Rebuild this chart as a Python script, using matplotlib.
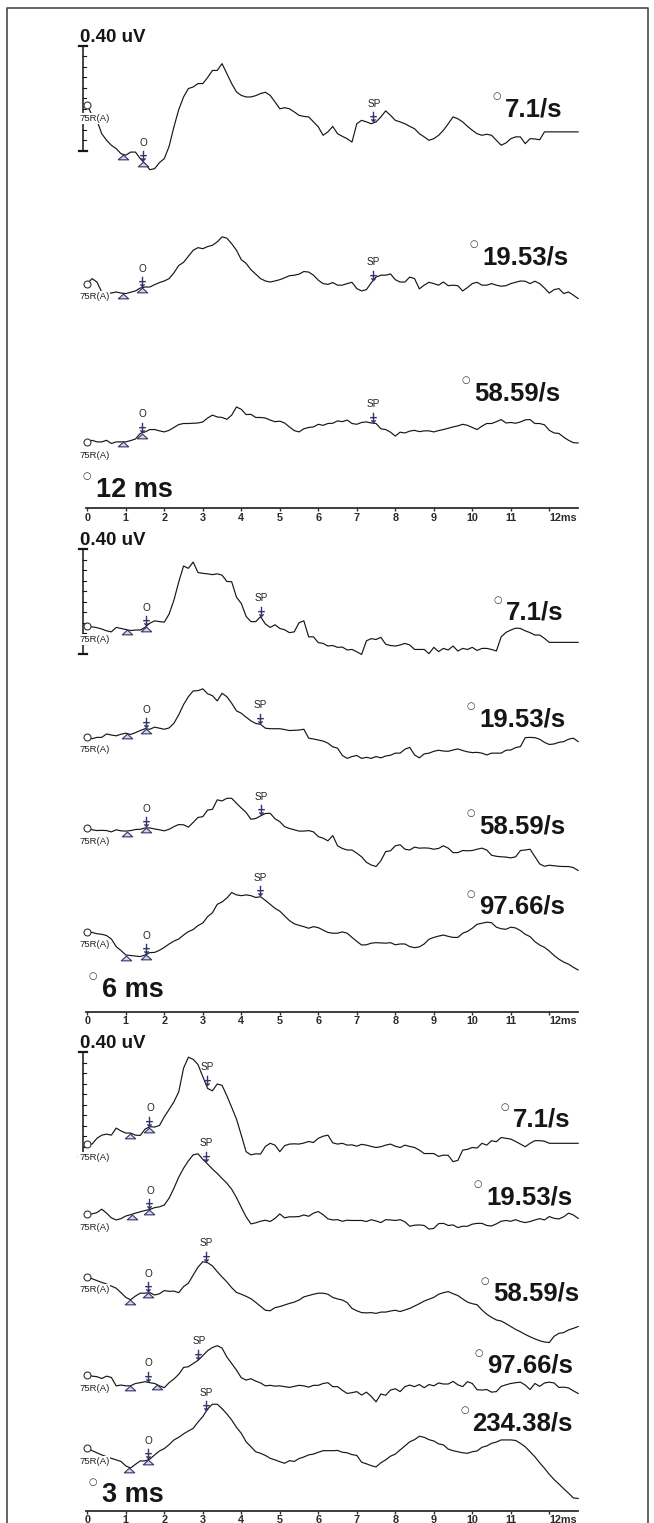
import numpy as np
import matplotlib
matplotlib.use("Agg")
import matplotlib.pyplot as plt
from matplotlib.path import Path
from matplotlib.lines import Line2D

plt.rcParams['font.family'] = ['Liberation Sans', 'DejaVu Sans']

# sample times of the averaged sweeps (ms)
time_ms = np.arange(103) * 0.125

# averaged responses in uV, relative to the first sample of each sweep
# 12 ms window
w12_71 = [0.057, 0.019, 0.000, -0.051, -0.076, -0.095, -0.108, -0.127,
          -0.133, -0.121, -0.121, -0.146, -0.165, -0.188, -0.184, -0.161,
          -0.146, -0.099, -0.025, 0.041, 0.089, 0.121, 0.127, 0.140,
          0.140, 0.163, 0.190, 0.190, 0.216, 0.178, 0.140, 0.108,
          0.095, 0.089, 0.089, 0.094, 0.102, 0.107, 0.095, 0.070,
          0.044, 0.048, 0.044, 0.032, 0.019, 0.015, 0.013, -0.006,
          -0.025, -0.057, -0.044, -0.023, -0.051, -0.061, -0.070, -0.083,
          -0.013, 0.000, -0.006, -0.013, -0.006, 0.013, 0.036, 0.019,
          0.000, -0.006, -0.013, -0.023, -0.032, -0.051, -0.063, -0.076,
          -0.070, -0.057, -0.038, -0.013, 0.013, 0.006, -0.006, -0.023,
          -0.038, -0.051, -0.057, -0.053, -0.057, -0.076, -0.095, -0.086,
          -0.070, -0.063, -0.063, -0.089, -0.070, -0.071, -0.074, -0.044,
          -0.044, -0.044, -0.044, -0.044, -0.044, -0.044, -0.044]
w12_19 = [0.000, 0.019, 0.006, -0.032, -0.036, -0.036, -0.032, -0.036,
          -0.038, -0.033, -0.028, -0.017, -0.013, -0.013, -0.004, 0.004,
          0.010, 0.019, 0.041, 0.069, 0.081, 0.104, 0.127, 0.137,
          0.133, 0.141, 0.146, 0.159, 0.178, 0.173, 0.152, 0.127,
          0.091, 0.077, 0.053, 0.036, 0.019, 0.010, 0.006, 0.010,
          0.015, 0.022, 0.030, 0.032, 0.036, 0.046, 0.044, 0.032,
          0.013, 0.000, -0.003, 0.004, -0.006, -0.006, 0.000, 0.005,
          -0.019, -0.028, -0.023, 0.003, 0.025, 0.032, 0.032, 0.037,
          0.015, 0.006, 0.006, 0.025, 0.019, -0.020, -0.006, 0.005,
          0.000, -0.006, 0.006, -0.008, -0.006, -0.008, -0.028, -0.015,
          0.000, 0.005, -0.006, -0.006, 0.000, -0.006, -0.010, -0.008,
          0.000, 0.005, 0.010, 0.009, 0.000, 0.009, 0.000, -0.017,
          -0.036, -0.023, -0.019, -0.038, -0.032, -0.044, -0.057]
w12_58 = [0.000, 0.006, 0.000, 0.000, 0.006, -0.006, 0.000, 0.000,
          0.000, 0.005, 0.011, 0.032, 0.038, 0.047, 0.047, 0.042,
          0.038, 0.044, 0.055, 0.066, 0.070, 0.070, 0.071, 0.072,
          0.076, 0.091, 0.102, 0.095, 0.093, 0.086, 0.102, 0.133,
          0.124, 0.104, 0.105, 0.093, 0.093, 0.091, 0.083, 0.077,
          0.079, 0.072, 0.057, 0.043, 0.038, 0.050, 0.055, 0.057,
          0.067, 0.063, 0.070, 0.071, 0.080, 0.077, 0.083, 0.070,
          0.067, 0.074, 0.076, 0.072, 0.070, 0.050, 0.047, 0.037,
          0.022, 0.037, 0.034, 0.041, 0.044, 0.039, 0.042, 0.042,
          0.038, 0.043, 0.047, 0.052, 0.057, 0.061, 0.067, 0.063,
          0.055, 0.047, 0.060, 0.070, 0.070, 0.077, 0.085, 0.072,
          0.074, 0.071, 0.076, 0.084, 0.085, 0.070, 0.070, 0.065,
          0.044, 0.034, 0.032, 0.018, 0.006, -0.003, -0.004]
# 6 ms window
w6_71 = [0.000, -0.003, -0.006, -0.011, -0.018, -0.022, -0.005, -0.009,
         -0.013, -0.017, -0.015, -0.015, -0.005, 0.011, 0.020, 0.017,
         0.015, 0.046, 0.099, 0.168, 0.229, 0.220, 0.244, 0.204,
         0.201, 0.199, 0.196, 0.199, 0.194, 0.170, 0.169, 0.110,
         0.086, 0.037, 0.017, 0.017, 0.036, 0.008, -0.005, 0.005,
         -0.009, -0.014, -0.025, -0.022, 0.013, 0.020, -0.041, -0.041,
         -0.063, -0.066, -0.076, -0.074, -0.081, -0.080, -0.091, -0.089,
         -0.098, -0.108, -0.056, -0.048, -0.051, -0.043, -0.069, -0.074,
         -0.076, -0.072, -0.066, -0.072, -0.089, -0.089, -0.089, -0.105,
         -0.081, -0.097, -0.085, -0.091, -0.076, -0.095, -0.085, -0.089,
         -0.081, -0.093, -0.085, -0.085, -0.089, -0.095, -0.041, -0.024,
         -0.015, -0.008, -0.009, -0.018, -0.025, -0.034, -0.034, -0.047,
         -0.062, -0.062, -0.062, -0.062, -0.062, -0.062, -0.062]
w6_19 = [0.000, -0.008, -0.003, -0.003, 0.010, 0.006, 0.003, 0.009,
         0.013, 0.008, 0.015, 0.023, 0.030, 0.028, 0.036, 0.032,
         0.028, 0.033, 0.051, 0.083, 0.122, 0.152, 0.174, 0.175,
         0.182, 0.163, 0.156, 0.136, 0.165, 0.152, 0.127, 0.098,
         0.089, 0.074, 0.060, 0.050, 0.047, 0.032, 0.030, 0.030,
         0.030, 0.027, 0.023, 0.024, 0.025, 0.028, -0.006, -0.009,
         -0.013, -0.017, -0.025, -0.039, -0.044, -0.072, -0.083, -0.076,
         -0.072, -0.083, -0.079, -0.083, -0.076, -0.081, -0.074, -0.071,
         -0.063, -0.063, -0.048, -0.041, -0.070, -0.081, -0.066, -0.063,
         -0.056, -0.052, -0.055, -0.056, -0.051, -0.047, -0.053, -0.058,
         -0.061, -0.060, -0.063, -0.070, -0.063, -0.063, -0.063, -0.052,
         -0.051, -0.042, -0.038, -0.004, -0.003, -0.004, -0.010, -0.022,
         -0.030, -0.028, -0.022, -0.019, -0.010, -0.006, -0.019]
w6_58 = [0.000, -0.006, -0.009, -0.008, -0.009, -0.014, -0.006, -0.010,
         -0.011, -0.009, -0.005, -0.004, 0.001, 0.001, -0.003, -0.006,
         -0.010, -0.004, 0.006, 0.014, 0.013, 0.004, 0.022, 0.041,
         0.044, 0.069, 0.072, 0.108, 0.104, 0.114, 0.114, 0.095,
         0.077, 0.060, 0.034, 0.037, 0.047, 0.056, 0.057, 0.036,
         0.025, 0.006, -0.001, -0.006, -0.011, -0.011, -0.009, -0.014,
         -0.032, -0.038, -0.048, -0.028, -0.067, -0.077, -0.083, -0.083,
         -0.095, -0.109, -0.130, -0.140, -0.146, -0.124, -0.089, -0.086,
         -0.067, -0.063, -0.080, -0.083, -0.072, -0.076, -0.075, -0.076,
         -0.080, -0.077, -0.067, -0.076, -0.093, -0.093, -0.085, -0.086,
         -0.085, -0.080, -0.076, -0.083, -0.103, -0.107, -0.109, -0.110,
         -0.113, -0.109, -0.085, -0.083, -0.080, -0.108, -0.136, -0.145,
         -0.141, -0.143, -0.145, -0.146, -0.146, -0.150, -0.161]
w6_97 = [0.000, -0.003, -0.008, -0.010, -0.015, -0.028, -0.057, -0.072,
         -0.089, -0.091, -0.093, -0.095, -0.089, -0.080, -0.079, -0.071,
         -0.060, -0.047, -0.036, -0.028, -0.013, 0.000, 0.008, 0.023,
         0.033, 0.057, 0.072, 0.104, 0.113, 0.128, 0.149, 0.140,
         0.137, 0.140, 0.137, 0.130, 0.133, 0.119, 0.104, 0.089,
         0.078, 0.060, 0.042, 0.030, 0.024, 0.019, 0.013, 0.019,
         0.015, 0.006, -0.003, -0.006, -0.006, -0.001, -0.006, -0.022,
         -0.037, -0.051, -0.050, -0.044, -0.042, -0.043, -0.044, -0.042,
         -0.050, -0.047, -0.047, -0.057, -0.061, -0.058, -0.047, -0.029,
         -0.022, -0.017, -0.013, -0.018, -0.022, -0.022, -0.006, 0.001,
         0.013, 0.028, 0.032, 0.036, 0.034, 0.017, 0.011, 0.009,
         0.017, 0.014, 0.004, -0.010, -0.019, -0.038, -0.051, -0.060,
         -0.074, -0.091, -0.105, -0.116, -0.124, -0.136, -0.146]
# 3 ms window
w3_71 = [0.000, 0.000, 0.022, 0.034, 0.038, 0.034, 0.061, 0.050,
         0.042, 0.042, 0.034, 0.033, 0.057, 0.066, 0.065, 0.071,
         0.104, 0.132, 0.161, 0.199, 0.289, 0.331, 0.323, 0.303,
         0.257, 0.212, 0.203, 0.229, 0.224, 0.184, 0.140, 0.095,
         0.034, -0.029, -0.041, -0.037, -0.038, -0.009, 0.003, -0.004,
         -0.029, -0.006, 0.000, 0.001, 0.000, 0.004, 0.010, 0.006,
         0.022, 0.030, 0.034, 0.005, 0.000, 0.003, -0.004, -0.003,
         -0.008, -0.001, -0.004, -0.009, -0.013, -0.010, -0.004, 0.000,
         -0.008, -0.013, -0.004, -0.009, -0.013, -0.023, -0.036, -0.036,
         -0.036, -0.047, -0.042, -0.043, -0.067, -0.062, -0.023, -0.020,
         -0.013, -0.015, 0.003, -0.004, 0.013, 0.009, 0.025, 0.022,
         0.019, 0.010, 0.000, -0.010, 0.003, 0.013, 0.013, 0.011,
         0.003, 0.003, 0.003, 0.003, 0.003, 0.003, 0.003]
w3_19 = [0.000, 0.000, 0.005, 0.018, 0.003, -0.015, -0.023, -0.018,
         -0.008, -0.003, 0.003, 0.008, 0.013, 0.017, 0.024, 0.027,
         0.034, 0.060, 0.098, 0.140, 0.174, 0.202, 0.225, 0.229,
         0.208, 0.190, 0.171, 0.154, 0.135, 0.117, 0.094, 0.062,
         0.025, -0.011, -0.038, -0.034, -0.028, -0.024, -0.029, -0.017,
         0.000, -0.015, -0.011, -0.011, -0.010, -0.004, -0.009, 0.003,
         0.009, -0.003, -0.019, -0.023, -0.022, -0.028, -0.024, -0.025,
         -0.025, -0.025, -0.029, -0.022, -0.027, -0.033, -0.022, -0.023,
         -0.025, -0.022, -0.030, -0.047, -0.043, -0.042, -0.044, -0.058,
         -0.055, -0.037, -0.036, -0.044, -0.042, -0.052, -0.047, -0.047,
         -0.039, -0.036, -0.036, -0.044, -0.046, -0.038, -0.028, -0.025,
         -0.028, -0.022, -0.029, -0.033, -0.029, -0.023, -0.018, -0.023,
         -0.010, -0.017, -0.019, -0.011, 0.003, -0.004, -0.017]
w3_58 = [0.000, -0.008, -0.015, -0.022, -0.028, -0.036, -0.044, -0.061,
         -0.079, -0.088, -0.074, -0.063, -0.063, -0.061, -0.070, -0.065,
         -0.053, -0.056, -0.055, -0.061, -0.038, -0.025, 0.006, 0.036,
         0.057, 0.053, 0.041, 0.019, -0.001, -0.020, -0.042, -0.060,
         -0.067, -0.075, -0.084, -0.098, -0.113, -0.128, -0.130, -0.118,
         -0.114, -0.108, -0.102, -0.097, -0.089, -0.077, -0.072, -0.067,
         -0.063, -0.063, -0.067, -0.079, -0.085, -0.089, -0.099, -0.121,
         -0.130, -0.137, -0.138, -0.137, -0.140, -0.135, -0.135, -0.131,
         -0.128, -0.133, -0.127, -0.121, -0.112, -0.103, -0.093, -0.086,
         -0.079, -0.067, -0.061, -0.057, -0.065, -0.072, -0.085, -0.097,
         -0.103, -0.107, -0.127, -0.143, -0.155, -0.165, -0.169, -0.179,
         -0.190, -0.201, -0.210, -0.220, -0.229, -0.237, -0.244, -0.249,
         -0.251, -0.227, -0.216, -0.213, -0.203, -0.197, -0.190]
w3_97 = [0.000, -0.004, -0.006, -0.013, -0.004, -0.009, -0.041, -0.038,
         -0.041, -0.041, -0.032, -0.029, -0.025, -0.029, -0.032, -0.041,
         -0.048, -0.029, -0.015, 0.003, 0.029, 0.032, 0.044, 0.056,
         0.074, 0.093, 0.105, 0.112, 0.103, 0.069, 0.044, 0.019,
         -0.010, -0.019, -0.014, -0.023, -0.030, -0.041, -0.039, -0.042,
         -0.041, -0.044, -0.047, -0.043, -0.039, -0.041, -0.046, -0.039,
         -0.039, -0.032, -0.029, -0.044, -0.044, -0.058, -0.070, -0.067,
         -0.063, -0.076, -0.065, -0.081, -0.102, -0.072, -0.077, -0.057,
         -0.052, -0.063, -0.044, -0.038, -0.044, -0.036, -0.048, -0.036,
         -0.041, -0.030, -0.034, -0.034, -0.024, -0.037, -0.044, -0.025,
         -0.032, -0.056, -0.057, -0.055, -0.065, -0.063, -0.043, -0.037,
         -0.032, -0.029, -0.027, -0.038, -0.055, -0.032, -0.043, -0.030,
         -0.027, -0.030, -0.047, -0.046, -0.049, -0.060, -0.070]
w3_234 = [0.000, -0.009, -0.017, -0.025, -0.032, -0.038, -0.044, -0.050,
          -0.067, -0.075, -0.061, -0.048, -0.048, -0.041, -0.025, -0.010,
          -0.001, 0.014, 0.032, 0.042, 0.055, 0.066, 0.076, 0.100,
          0.121, 0.150, 0.168, 0.168, 0.151, 0.131, 0.108, 0.080,
          0.057, 0.025, 0.006, -0.013, -0.019, -0.027, -0.038, -0.044,
          -0.051, -0.057, -0.047, -0.050, -0.039, -0.033, -0.025, -0.022,
          -0.015, -0.009, -0.009, -0.009, -0.008, -0.015, -0.017, -0.024,
          -0.027, -0.053, -0.059, -0.066, -0.071, -0.055, -0.044, -0.030,
          -0.022, -0.006, 0.009, 0.025, 0.033, 0.046, 0.042, 0.033,
          0.028, 0.017, 0.013, -0.003, -0.009, -0.013, -0.017, -0.019,
          -0.013, -0.010, 0.004, 0.009, 0.019, 0.024, 0.032, 0.032,
          0.032, 0.030, 0.019, 0.006, -0.013, -0.032, -0.055, -0.076,
          -0.099, -0.119, -0.136, -0.154, -0.171, -0.189, -0.191]

rates_12 = ['7.1/s', '19.53/s', '58.59/s']
rates_6 = ['7.1/s', '19.53/s', '58.59/s', '97.66/s']
rates_3 = ['7.1/s', '19.53/s', '58.59/s', '97.66/s', '234.38/s']

# marker latencies (ms): first baseline triangle, onset "O", second triangle, "SP"
tri_a_12 = [0.94, 0.94, 0.94]
onset_12 = [1.45, 1.41, 1.41]
tri_b_12 = [1.45, 1.41, 1.41]
sp_12 = [7.43, 7.41, 7.41]
tri_a_6 = [1.02, 1.02, 1.02, 1.00]
onset_6 = [1.52, 1.52, 1.52, 1.52]
tri_b_6 = [1.52, 1.52, 1.52, 1.52]
sp_6 = [4.51, 4.48, 4.51, 4.48]
tri_a_3 = [1.11, 1.15, 1.11, 1.11, 1.09]
onset_3 = [1.61, 1.61, 1.58, 1.58, 1.58]
tri_b_3 = [1.61, 1.61, 1.58, 1.80, 1.58]
sp_3 = [3.10, 3.08, 3.08, 2.88, 3.08]

tick_labels = ['0', '1', '2', '3', '4', '5', '6', '7', '8', '9', '10', '11', '12ms']

# page geometry
FIG_W, FIG_H = 654, 1523
PX_MS = 38.5      # px per ms
PX_UV = 262.5     # px per uV (0.40 uV bar = 105 px)
X0_PX = 87.3      # pixel column of t = 0
XLIM = (-0.6, 13.0)
YTOP = 1.85
NAVY = '#34346e'
INK = '#161616'

panels = [
    dict(axis_px=508.3, axis_lift=0.0, window='12 ms', win_xy=(0.22, 0.070),
         waves=[w12_71, w12_19, w12_58], rates=rates_12,
         offsets=[1.478, 0.856, 0.253],
         rate_xy=[(12.33, 1.521), (12.49, 0.954), (12.28, 0.439)],
         tri_a=tri_a_12, onset=onset_12, tri_b=tri_b_12, sp=sp_12),
    dict(axis_px=1011.7, axis_lift=0.0, window='6 ms', win_xy=(0.38, 0.083),
         waves=[w6_71, w6_19, w6_58, w6_97], rates=rates_6,
         offsets=[1.469, 1.048, 0.699, 0.305],
         rate_xy=[(12.36, 1.519), (12.41, 1.115), (12.41, 0.707), (12.41, 0.399)],
         tri_a=tri_a_6, onset=onset_6, tri_b=tri_b_6, sp=sp_6),
    dict(axis_px=1515.0, axis_lift=4.5, window='3 ms', win_xy=(0.38, 0.075),
         waves=[w3_71, w3_19, w3_58, w3_97, w3_234], rates=rates_3,
         offsets=[1.413, 1.147, 0.908, 0.533, 0.254],
         rate_xy=[(12.54, 1.505), (12.59, 1.211), (12.77, 0.842),
                  (12.61, 0.568), (12.61, 0.350)],
         tri_a=tri_a_3, onset=onset_3, tri_b=tri_b_3, sp=sp_3),
]

# flat baseline triangle and the down arrow used for the O / SP cursors
tri_marker = Path([(-1, -0.45), (1, -0.45), (0, 0.45), (-1, -0.45)],
                  [Path.MOVETO, Path.LINETO, Path.LINETO, Path.CLOSEPOLY])
arrow_marker = Path([(0, 0), (0, 1.6), (-0.55, 0.8), (0.55, 0.8),
                     (-0.35, 0.35), (0, 0), (0.35, 0.35)],
                    [Path.MOVETO, Path.LINETO, Path.MOVETO, Path.LINETO,
                     Path.MOVETO, Path.LINETO, Path.LINETO])

fig = plt.figure(figsize=(FIG_W / 100, FIG_H / 100), dpi=100)
fig.patch.set_facecolor('white')

# page frame
fig.add_artist(Line2D([7 / FIG_W, 7 / FIG_W, 648 / FIG_W, 648 / FIG_W],
                      [0, 1 - 8.3 / FIG_H, 1 - 8.3 / FIG_H, 0],
                      transform=fig.transFigure, color='#4a4a4a', lw=1.2))

left_px = X0_PX + XLIM[0] * PX_MS
width_px = (XLIM[1] - XLIM[0]) * PX_MS
height_px = YTOP * PX_UV

for p in panels:
    ax = fig.add_axes([left_px / FIG_W, (FIG_H - p['axis_px']) / FIG_H,
                       width_px / FIG_W, height_px / FIG_H])
    ax.set_xlim(*XLIM)
    ax.set_ylim(0, YTOP)
    ax.patch.set_visible(False)
    for side in ['top', 'right', 'left']:
        ax.spines[side].set_visible(False)
    ax.spines['bottom'].set_position(('data', p['axis_lift'] / PX_UV))
    ax.spines['bottom'].set_bounds(-0.03, 12.75)
    ax.spines['bottom'].set_color('#2e2e2e')
    ax.spines['bottom'].set_linewidth(1.3)
    ax.set_yticks([])
    ax.set_xticks(range(13))
    ax.set_xticklabels(tick_labels, fontsize=7.8, fontweight='bold',
                       color='#2a2a2a', family=['Liberation Sans Narrow', 'Liberation Sans'])
    ax.get_xticklabels()[-1].set_horizontalalignment('left')
    ax.tick_params(axis='x', length=2.5, width=1, color='#2e2e2e', pad=0.6)

    # 0.40 uV calibration bar
    bx, b_lo, b_hi = -0.12, 1.362, 1.762
    cap = 4 / PX_MS
    ax.plot([bx, bx], [b_lo, b_hi], color=INK, lw=1.1)
    ax.plot([bx - cap, bx + cap], [b_hi, b_hi], color=INK, lw=1.6)
    ax.plot([bx - cap, bx + cap], [b_lo, b_lo], color=INK, lw=1.6)
    for k in range(1, 10):
        yk = b_lo + 0.04 * k
        ax.plot([bx, bx + 3 / PX_MS], [yk, yk], color=INK, lw=0.8)
    ax.text(-0.19, 1.778, '0.40 uV', fontsize=13.5, fontweight='bold',
            ha='left', va='baseline', color=INK)

    # window label
    wt = ax.text(p['win_xy'][0], p['win_xy'][1], p['window'], fontsize=19.5,
                 fontweight='bold', ha='left', va='center', color=INK)
    ax.annotate('○', xy=(0, 1), xycoords=wt, xytext=(-6.5, 0.5),
                textcoords='offset points', ha='center', va='center',
                fontsize=7, color='#333333', family='DejaVu Sans')

    for i, wave in enumerate(p['waves']):
        y = p['offsets'][i] + np.asarray(wave)
        ax.plot(time_ms, y, color=INK, lw=0.85, zorder=2)

        # start circle and electrode label
        ax.plot([time_ms[0]], [y[0]], marker='o', ms=5, mfc='white',
                mec='#333333', mew=0.8, zorder=4)
        ax.annotate('75R(A)', xy=(time_ms[0], y[0]), xytext=(-6, -9.5),
                    textcoords='offset points', ha='left', va='center',
                    fontsize=6.8, color='#222222', zorder=3,
                    bbox=dict(boxstyle='square,pad=0.1', fc='white', ec='none'))

        # baseline triangles
        for tt in (p['tri_a'][i], p['tri_b'][i]):
            yt = np.interp(tt, time_ms, y)
            ax.plot([tt], [yt - 2.5 / PX_UV], marker=tri_marker, ms=7.5,
                    mfc='#d6d6e6', mec=NAVY, mew=0.8, ls='none', zorder=3)

        # onset and peak cursors
        for tt, name in ((p['onset'][i], 'O'), (p['sp'][i], 'SP')):
            yt = np.interp(tt, time_ms, y) + 1.5 / PX_UV
            ax.plot([tt], [yt], marker=arrow_marker, ms=14, mfc='none',
                    mec=NAVY, mew=1.0, ls='none', zorder=3)
            ax.annotate(name, xy=(tt, yt), xytext=(0.5, 9),
                        textcoords='offset points', ha='center', va='bottom',
                        fontsize=7.2, color='#222222')

        # stimulation rate
        rx, ry = p['rate_xy'][i]
        rt = ax.text(rx, ry, p['rates'][i], fontsize=18.5, fontweight='bold',
                     ha='right', va='center', color=INK)
        ax.annotate('○', xy=(0, 1), xycoords=rt, xytext=(-5.8, 1),
                    textcoords='offset points', ha='center', va='center',
                    fontsize=7, color='#333333', family='DejaVu Sans')

fig.savefig('out.png', dpi=100, facecolor='white')
